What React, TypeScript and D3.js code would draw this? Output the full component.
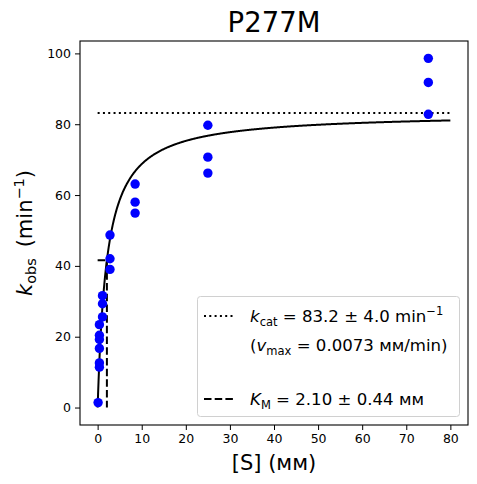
// @ts-nocheck
import { useEffect, useRef } from 'react';
import * as d3 from 'd3';

const concS = [0.1, 0.4, 0.4, 0.4, 0.4, 0.4, 0.4, 1.1, 1.1, 1.1, 2.8, 2.8, 2.8, 8.5, 8.5, 8.5, 25, 25, 25, 75, 75, 75];
const kObs = [1.4, 23.4, 20.4, 19.2, 16.7, 12.6, 11.4, 31.6, 29.3, 25.6, 48.7, 42.0, 39.0, 63.1, 58.0, 54.9, 79.7, 70.7, 66.2, 98.6, 91.8, 82.8];

// fitted Michaelis-Menten parameters
const kcat = 83.2;
const km = 2.1;
const sMax = 80;

const xTicks = [0, 10, 20, 30, 40, 50, 60, 70, 80];
const yTicks = [0, 20, 40, 60, 80, 100];

const FONT = 'DejaVu Sans';

const App = () => {
  const svgRef = useRef();

  useEffect(() => {
    const svg = d3.select(svgRef.current);
    svg.selectAll('*').remove();

    const left = 80, right = 468, top = 41, bottom = 425;

    const x = d3.scaleLinear().domain([-4, 84]).range([left, right]);
    const y = d3.scaleLinear().domain([-4.93, 103.5]).range([bottom, top]);

    // axes
    const gx = svg.append('g')
      .attr('transform', `translate(0,${bottom})`)
      .call(d3.axisBottom(x).tickValues(xTicks).tickSize(5).tickPadding(4));
    const gy = svg.append('g')
      .attr('transform', `translate(${left},0)`)
      .call(d3.axisLeft(y).tickValues(yTicks).tickSize(5).tickPadding(4));
    [gx, gy].forEach(g => {
      g.select('.domain').remove();
      g.selectAll('text').attr('font-family', FONT).attr('font-size', 12.5).attr('fill', '#000');
      g.selectAll('line').attr('stroke', '#000').attr('stroke-width', 1);
    });

    // KM dashed guide
    const half = kcat / 2;
    svg.append('path')
      .attr('d', `M${x(0)},${y(half)}H${x(km)}V${y(0)}`)
      .attr('fill', 'none')
      .attr('stroke', '#000')
      .attr('stroke-width', 2)
      .attr('stroke-dasharray', '7.5,3.2');

    // kcat dotted line
    svg.append('line')
      .attr('x1', x(0)).attr('x2', x(sMax))
      .attr('y1', y(kcat)).attr('y2', y(kcat))
      .attr('stroke', '#000')
      .attr('stroke-width', 2)
      .attr('stroke-dasharray', '2,3.3');

    // fit curve
    const fitS = d3.range(0, sMax + 0.001, 0.1);
    const line = d3.line()
      .x(d => x(d))
      .y(d => y(kcat * d / (km + d)));
    svg.append('path')
      .datum(fitS)
      .attr('d', line)
      .attr('fill', 'none')
      .attr('stroke', '#000')
      .attr('stroke-width', 2);

    // data points
    svg.append('g')
      .selectAll('circle')
      .data(concS)
      .enter()
      .append('circle')
      .attr('cx', d => x(d))
      .attr('cy', (d, i) => y(kObs[i]))
      .attr('r', 4.7)
      .attr('fill', '#0000ff');

    // frame
    svg.append('rect')
      .attr('x', left).attr('y', top)
      .attr('width', right - left).attr('height', bottom - top)
      .attr('fill', 'none')
      .attr('stroke', '#000')
      .attr('stroke-width', 1.1);

    // title
    svg.append('text')
      .attr('x', (left + right) / 2)
      .attr('y', 32)
      .attr('text-anchor', 'middle')
      .attr('font-family', FONT)
      .attr('font-size', 27.5)
      .text('P277M');

    // x label
    svg.append('text')
      .attr('x', (left + right) / 2)
      .attr('y', 470)
      .attr('text-anchor', 'middle')
      .attr('font-family', FONT)
      .attr('font-size', 21)
      .text('[S] (мм)');

    // y label
    const yl = svg.append('text')
      .attr('transform', `translate(32,${(top + bottom) / 2}) rotate(-90)`)
      .attr('text-anchor', 'middle')
      .attr('font-family', FONT)
      .attr('font-size', 21);
    yl.append('tspan').attr('font-style', 'italic').text('k');
    yl.append('tspan').attr('font-size', 14.5).attr('dy', 4).text('obs');
    yl.append('tspan').attr('dy', -4).text('\u2009 (min');
    yl.append('tspan').attr('font-size', 14.5).attr('dy', -8).text('\u22121');
    yl.append('tspan').attr('dy', 8).text(')');

    // legend
    const lg = svg.append('g');
    lg.append('rect')
      .attr('x', 197.5).attr('y', 296.5)
      .attr('width', 262).attr('height', 120)
      .attr('rx', 3)
      .attr('fill', '#fff')
      .attr('fill-opacity', 0.8)
      .attr('stroke', '#d0d0d0')
      .attr('stroke-width', 1);

    lg.append('line')
      .attr('x1', 204).attr('x2', 233).attr('y1', 316).attr('y2', 316)
      .attr('stroke', '#000').attr('stroke-width', 2).attr('stroke-dasharray', '2,3.3');
    lg.append('line')
      .attr('x1', 204).attr('x2', 233).attr('y1', 399).attr('y2', 399)
      .attr('stroke', '#000').attr('stroke-width', 2).attr('stroke-dasharray', '7.5,3.2');

    const fs = 16.6, sub = 11.5;
    const t1 = lg.append('text').attr('x', 250).attr('y', 322).attr('font-family', FONT).attr('font-size', fs);
    t1.append('tspan').attr('font-style', 'italic').text('k');
    t1.append('tspan').attr('font-size', sub).attr('dy', 3.5).text('cat');
    t1.append('tspan').attr('dy', -3.5).text(' = 83.2 ± 4.0 min');
    t1.append('tspan').attr('font-size', sub).attr('dy', -7).text('\u22121');

    const t2 = lg.append('text').attr('x', 250).attr('y', 351).attr('font-family', FONT).attr('font-size', fs);
    t2.append('tspan').text('(');
    t2.append('tspan').attr('font-style', 'italic').text('v');
    t2.append('tspan').attr('font-size', sub).attr('dy', 3.5).text('max');
    t2.append('tspan').attr('dy', -3.5).text(' = 0.0073 мм/min)');

    const t3 = lg.append('text').attr('x', 250).attr('y', 405).attr('font-family', FONT).attr('font-size', fs);
    t3.append('tspan').attr('font-style', 'italic').text('K');
    t3.append('tspan').attr('font-size', sub).attr('dy', 3.5).text('M');
    t3.append('tspan').attr('dy', -3.5).text(' = 2.10 ± 0.44 мм');
  }, []);

  return (
    <svg
      ref={svgRef}
      width={477}
      height={484}
      style={{ position: 'absolute', left: 0, top: 0, background: '#fff' }}
    />
  );
};

export default App;
